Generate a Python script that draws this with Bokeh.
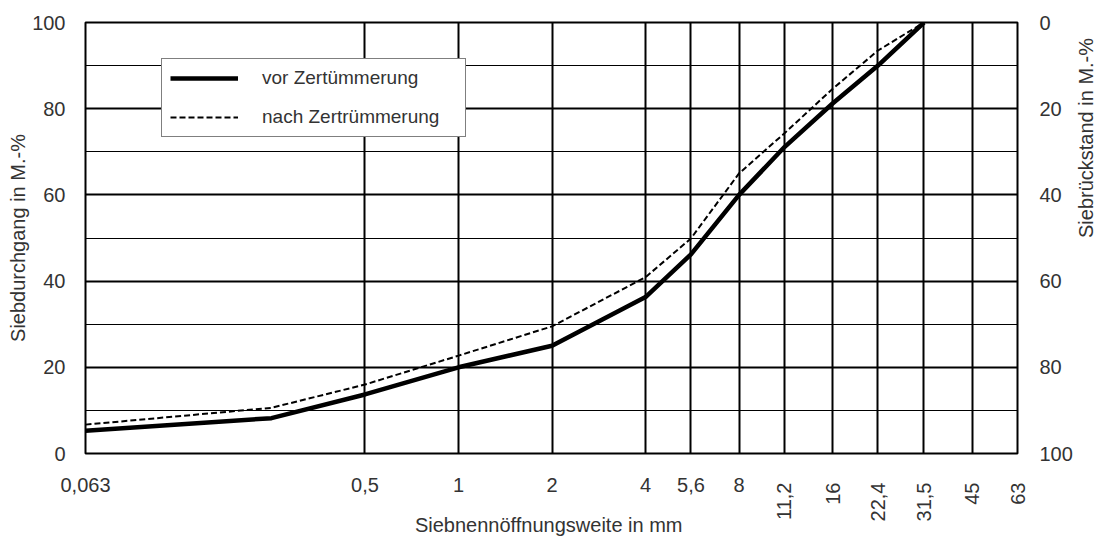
import math
from bokeh.plotting import figure
from bokeh.models import (FixedTicker, LinearAxis, LogAxis, Range1d, Legend)
from bokeh.embed import file_html
from bokeh.resources import INLINE

# ---- data ----
sieve_mm = [0.063, 0.25, 0.5, 1, 2, 4, 5.6, 8, 11.2, 16, 22.4, 31.5]
vor_zertruemmerung = [5.3, 8.2, 13.7, 20.0, 25.0, 36.3, 46.2, 60.0, 71.1, 81.2, 90.0, 100.0]
nach_zertruemmerung = [6.7, 10.6, 16.0, 22.7, 29.5, 40.9, 49.9, 65.0, 74.3, 84.6, 93.5, 100.0]

grid_x = [0.5, 1, 2, 4, 5.6, 8, 11.2, 16, 22.4, 31.5, 45]
flat_ticks = [0.063, 0.5, 1, 2, 4, 5.6, 8]
flat_labels = ["0,063", "0,5", "1", "2", "4", "5,6", "8"]
rot_ticks = [11.2, 16, 22.4, 31.5, 45, 63]
rot_labels = ["11,2", "16", "22,4", "31,5", "45", "63"]
y_ticks = [0, 20, 40, 60, 80, 100]

FONT = "Liberation Sans"
TXT = "#333333"

p = figure(x_axis_type="log", x_range=(0.063, 63), y_range=(0, 100),
           frame_width=932, frame_height=431,
           min_border_left=85, min_border_top=22, min_border_right=86, min_border_bottom=84,
           output_backend="svg", toolbar_location=None)
p.background_fill_color = "white"
p.border_fill_color = "white"
p.outline_line_color = "black"
p.outline_line_width = 2

# grids
p.xgrid.ticker = FixedTicker(ticks=grid_x)
p.xgrid.grid_line_color = "black"
p.xgrid.grid_line_width = 2
p.ygrid.ticker = FixedTicker(ticks=[20, 40, 60, 80], minor_ticks=[10, 30, 50, 70, 90])
p.ygrid.grid_line_color = "black"
p.ygrid.grid_line_width = 2
p.ygrid.minor_grid_line_color = "black"
p.ygrid.minor_grid_line_width = 1


def style_axis(ax):
    ax.axis_line_color = None
    ax.major_tick_line_color = None
    ax.minor_tick_line_color = None
    ax.major_label_text_font = FONT
    ax.major_label_text_font_size = "20px"
    ax.major_label_text_color = TXT
    ax.axis_label_text_font = FONT
    ax.axis_label_text_font_size = "20px"
    ax.axis_label_text_font_style = "normal"
    ax.axis_label_text_color = TXT


# x axis A (closest): rotated labels
xa = p.xaxis[0]
style_axis(xa)
xa.ticker = FixedTicker(ticks=rot_ticks)
xa.major_label_overrides = {t: l for t, l in zip(rot_ticks, rot_labels)}
xa.major_label_orientation = math.pi / 2
xa.major_label_standoff = 23

# x axis B: horizontal labels + axis title, pulled up over axis A
xb = LogAxis(ticker=FixedTicker(ticks=flat_ticks))
style_axis(xb)
xb.major_label_overrides = {t: l for t, l in zip(flat_ticks, flat_labels)}
xb.major_label_standoff = -53
xb.axis_label = "Siebnennöffnungsweite  in mm"
xb.axis_label_standoff = 19
p.add_layout(xb, "below")

# left y axis
ya = p.yaxis[0]
style_axis(ya)
ya.ticker = FixedTicker(ticks=y_ticks)
ya.major_label_standoff = 14
ya.axis_label = "Siebdurchgang in M.-%"
ya.axis_label_standoff = 0

# right y axis (reversed)
p.extra_y_ranges = {"rueck": Range1d(start=100, end=0)}
ra = LinearAxis(y_range_name="rueck", ticker=FixedTicker(ticks=y_ticks))
style_axis(ra)
ra.major_label_standoff = 16
ra.axis_label = "Siebrückstand in M.-%"
ra.axis_label_standoff = 10
try:
    ra.axis_label_orientation = math.pi / 2
except AttributeError:
    pass
p.add_layout(ra, "right")

# lines
r1 = p.line(sieve_mm, vor_zertruemmerung, line_color="black", line_width=4.5)
r2 = p.line(sieve_mm, nach_zertruemmerung, line_color="black", line_width=2, line_dash="6 3")

legend = Legend(items=[("vor Zertümmerung", [r1]), ("nach Zertrümmerung", [r2])],
                location=(76, 316), margin=0, padding=8, spacing=17,
                glyph_width=68, glyph_height=20, label_height=20, label_width=195,
                label_standoff=24, label_text_font=FONT, label_text_font_size="19px",
                label_text_color=TXT, border_line_color="black", border_line_width=1,
                background_fill_color="white", background_fill_alpha=1.0)
p.add_layout(legend)

open("out.html", "w").write(file_html(p, INLINE))
